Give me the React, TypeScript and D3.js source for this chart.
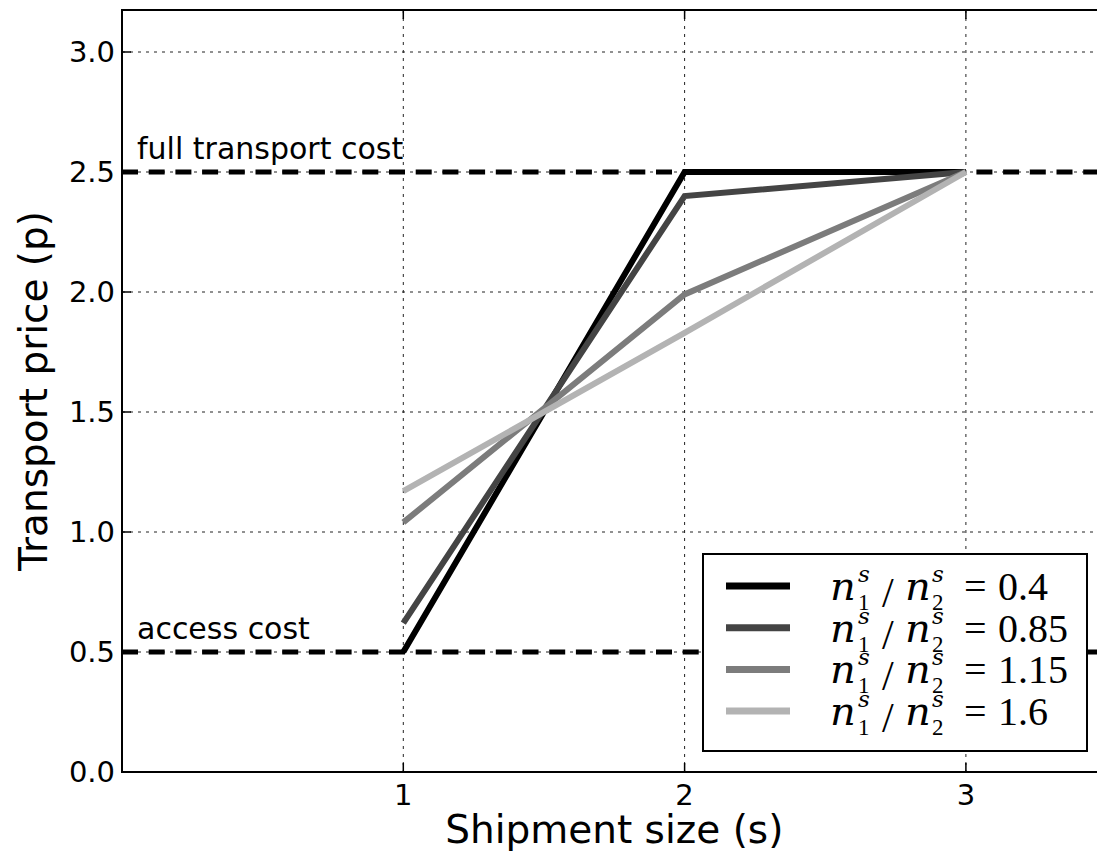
import React from 'react';
import * as d3 from 'd3';

// data
const shipmentSizes = [1, 2, 3];
const ratioLabels = ['0.4', '0.85', '1.15', '1.6'];
const priceRatio04 = [0.5, 2.5, 2.5];
const priceRatio085 = [0.62, 2.4, 2.5];
const priceRatio115 = [1.04, 1.99, 2.5];
const priceRatio16 = [1.17, 1.83, 2.5];
const xTicks = [1, 2, 3];
const yTicks = [0, 0.5, 1, 1.5, 2, 2.5, 3];
const costLevels = [0.5, 2.5];
const costLabels = ['access cost', 'full transport cost'];

const W = 1097;
const H = 852;
const left = 122;
const top = 10;
const bottom = 772;

const seriesValues = [priceRatio04, priceRatio085, priceRatio115, priceRatio16];
const seriesColors = ['#000000', '#444444', '#7c7c7c', '#b3b3b3'];

const sans = "'DejaVu Sans', sans-serif";
const serif = "'Liberation Serif', 'DejaVu Serif', serif";
const mathItalic = "'DejaVu Serif', serif";

const App: React.FC = () => {
	const x = d3.scaleLinear().domain([0, 3.5]).range([left, left + 3.5 * 281.3]);
	const y = d3.scaleLinear().domain([0, 3.175]).range([bottom, top]);
	const right = x(3.5);

	const line = d3
		.line<[number, number]>()
		.x((d) => x(d[0]))
		.y((d) => y(d[1]));

	const legendX = 703;
	const legendY = 554;
	const rowStep = 41.7;

	return (
		<svg
			width={W}
			height={H}
			style={{ position: 'absolute', left: 0, top: 0, background: '#fff' }}
		>
			<defs>
				<clipPath id='plot'>
					<rect x={left} y={top} width={right - left} height={bottom - top} />
				</clipPath>
			</defs>

			<g clipPath='url(#plot)'>
				{/* grid */}
				{xTicks.map((t) => (
					<line
						key={'gx' + t}
						x1={x(t)}
						x2={x(t)}
						y1={top}
						y2={bottom}
						stroke='#222'
						strokeWidth={1}
						strokeDasharray='3,5'
					/>
				))}
				{yTicks.map((t) => (
					<line
						key={'gy' + t}
						x1={left}
						x2={right}
						y1={y(t)}
						y2={y(t)}
						stroke='#222'
						strokeWidth={1}
						strokeDasharray='3,5'
					/>
				))}

				{/* cost levels */}
				{costLevels.map((c) => (
					<line
						key={'c' + c}
						x1={left}
						x2={right}
						y1={y(c)}
						y2={y(c)}
						stroke='#000'
						strokeWidth={5}
						strokeDasharray='16,10.7'
					/>
				))}

				{/* series */}
				{seriesValues.map((vals, i) => (
					<path
						key={'s' + i}
						d={line(shipmentSizes.map((s, j) => [s, vals[j]] as [number, number])) || ''}
						fill='none'
						stroke={seriesColors[i]}
						strokeWidth={6}
						strokeLinejoin='miter'
					/>
				))}
			</g>

			{/* cost labels */}
			{costLevels.map((c, i) => (
				<text
					key={'cl' + c}
					x={left + 15}
					y={y(c) - 13}
					fontFamily={sans}
					fontSize={30}
					fill='#000'
				>
					{costLabels[i]}
				</text>
			))}

			{/* ticks */}
			{xTicks.map((t) => (
				<g key={'tx' + t}>
					<line x1={x(t)} x2={x(t)} y1={bottom} y2={bottom - 9} stroke='#000' strokeWidth={1.5} />
					<line x1={x(t)} x2={x(t)} y1={top} y2={top + 9} stroke='#000' strokeWidth={1.5} />
					<text
						x={x(t)}
						y={bottom + 33}
						textAnchor='middle'
						fontFamily={sans}
						fontSize={29}
						fill='#000'
					>
						{t}
					</text>
				</g>
			))}
			{yTicks.map((t) => (
				<g key={'ty' + t}>
					<line x1={left} x2={left + 9} y1={y(t)} y2={y(t)} stroke='#000' strokeWidth={1.5} />
					<text
						x={left - 7}
						y={y(t)}
						dy='0.36em'
						textAnchor='end'
						fontFamily={sans}
						fontSize={29}
						fill='#000'
					>
						{d3.format('.1f')(t)}
					</text>
				</g>
			))}

			{/* frame */}
			<rect
				x={left}
				y={top}
				width={right - left}
				height={bottom - top}
				fill='none'
				stroke='#000'
				strokeWidth={2}
			/>

			{/* axis labels */}
			<text
				x={(left + right) / 2}
				y={843}
				textAnchor='middle'
				fontFamily={sans}
				fontSize={39}
				fill='#000'
			>
				Shipment size (s)
			</text>
			<text
				transform={`translate(47, ${(top + bottom) / 2}) rotate(-90)`}
				textAnchor='middle'
				fontFamily={sans}
				fontSize={39}
				fill='#000'
			>
				Transport price (p)
			</text>

			{/* legend */}
			<rect
				x={legendX}
				y={legendY}
				width={384}
				height={197}
				fill='#fff'
				stroke='#000'
				strokeWidth={2}
			/>
			{ratioLabels.map((r, i) => {
				const cy = legendY + 32 + i * rowStep;
				return (
					<g key={'lg' + r}>
						<line x1={726} x2={790} y1={cy} y2={cy} stroke={seriesColors[i]} strokeWidth={7} />
						<text x={830} y={cy + 14} fontFamily={mathItalic} fontStyle='italic' fontSize={40} fill='#000'>
							n
						</text>
						<text x={858} y={cy - 4} fontFamily={mathItalic} fontStyle='italic' fontSize={23} fill='#000'>
							s
						</text>
						<text x={858} y={cy + 24} fontFamily={serif} fontSize={23} fill='#000'>
							1
						</text>
						<text x={882} y={cy + 21} fontFamily={serif} fontSize={42} fill='#000'>
							/
						</text>
						<text x={905} y={cy + 14} fontFamily={mathItalic} fontStyle='italic' fontSize={40} fill='#000'>
							n
						</text>
						<text x={932} y={cy - 4} fontFamily={mathItalic} fontStyle='italic' fontSize={23} fill='#000'>
							s
						</text>
						<text x={932} y={cy + 24} fontFamily={serif} fontSize={23} fill='#000'>
							2
						</text>
						<text x={964} y={cy + 14} fontFamily={serif} fontSize={40} fill='#000'>
							=
						</text>
						<text x={998} y={cy + 14} fontFamily={serif} fontSize={40} fill='#000'>
							{r}
						</text>
					</g>
				);
			})}
		</svg>
	);
};

export default App;
